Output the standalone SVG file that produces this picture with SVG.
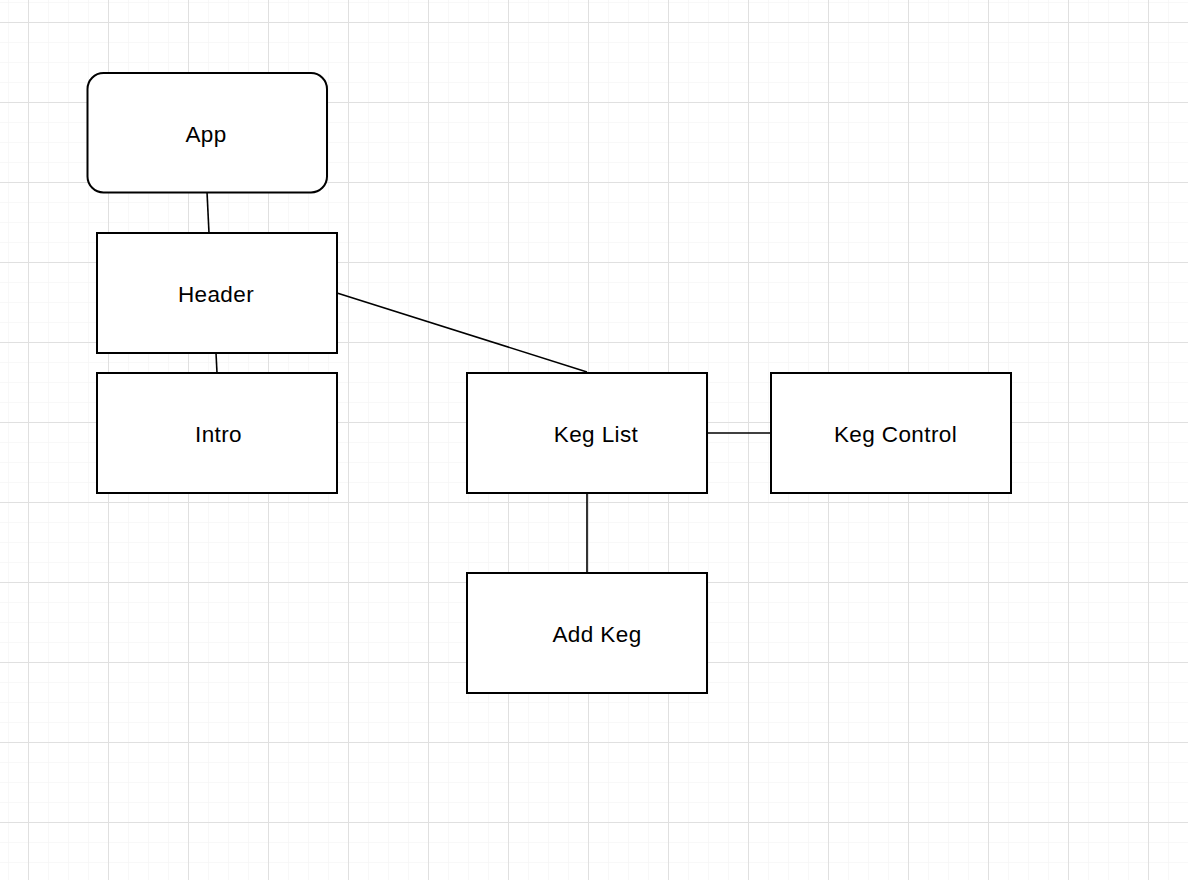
<svg xmlns="http://www.w3.org/2000/svg" width="1188" height="880" viewBox="0 0 1188 880">
<defs>
<pattern id="minor" x="8" y="2" width="20" height="20" patternUnits="userSpaceOnUse">
<path d="M0 0H20M0 0V20" fill="none" stroke="#f2f2f2" stroke-width="1"/>
</pattern>
<pattern id="major" x="28" y="22" width="80" height="80" patternUnits="userSpaceOnUse">
<path d="M0 0.5H80M0.5 0V80" fill="none" stroke="#e0e0e0" stroke-width="1"/>
</pattern>
</defs>
<style>
.box{fill:#fff;stroke:#000;stroke-width:2}
.lbl{font-family:"Liberation Sans",Arial,Helvetica,sans-serif;font-size:22.5px;letter-spacing:0.4px;fill:#000;text-anchor:middle}
.edge{stroke:#000;stroke-width:1.6;fill:none}
</style>
<rect width="1188" height="880" fill="#fff"/>
<rect width="1188" height="880" fill="url(#minor)"/>
<rect width="1188" height="880" fill="url(#major)"/>
<g id="connectors">
<line class="edge" x1="207" y1="192" x2="209" y2="233"/>
<line class="edge" x1="216" y1="353" x2="217" y2="373"/>
<line class="edge" x1="337" y1="293" x2="587" y2="372"/>
<line class="edge" x1="707" y1="433" x2="771" y2="433"/>
<line class="edge" x1="587" y1="493" x2="587" y2="573"/>
</g>
<g id="app">
<rect class="box" x="87.5" y="73" width="239.5" height="119.5" rx="16" ry="16"/>
<text class="lbl" x="206" y="141.7">App</text>
</g>
<g id="header">
<rect class="box" x="97" y="233" width="240" height="120"/>
<text class="lbl" x="216" y="301.7">Header</text>
</g>
<g id="intro">
<rect class="box" x="97" y="373" width="240" height="120"/>
<text class="lbl" x="218.5" y="441.7">Intro</text>
</g>
<g id="keglist">
<rect class="box" x="467" y="373" width="240" height="120"/>
<text class="lbl" x="596" y="441.7">Keg List</text>
</g>
<g id="kegcontrol">
<rect class="box" x="771" y="373" width="240" height="120"/>
<text class="lbl" x="895.5" y="441.7">Keg Control</text>
</g>
<g id="addkeg">
<rect class="box" x="467" y="573" width="240" height="120"/>
<text class="lbl" x="597" y="641.7">Add Keg</text>
</g>
</svg>
